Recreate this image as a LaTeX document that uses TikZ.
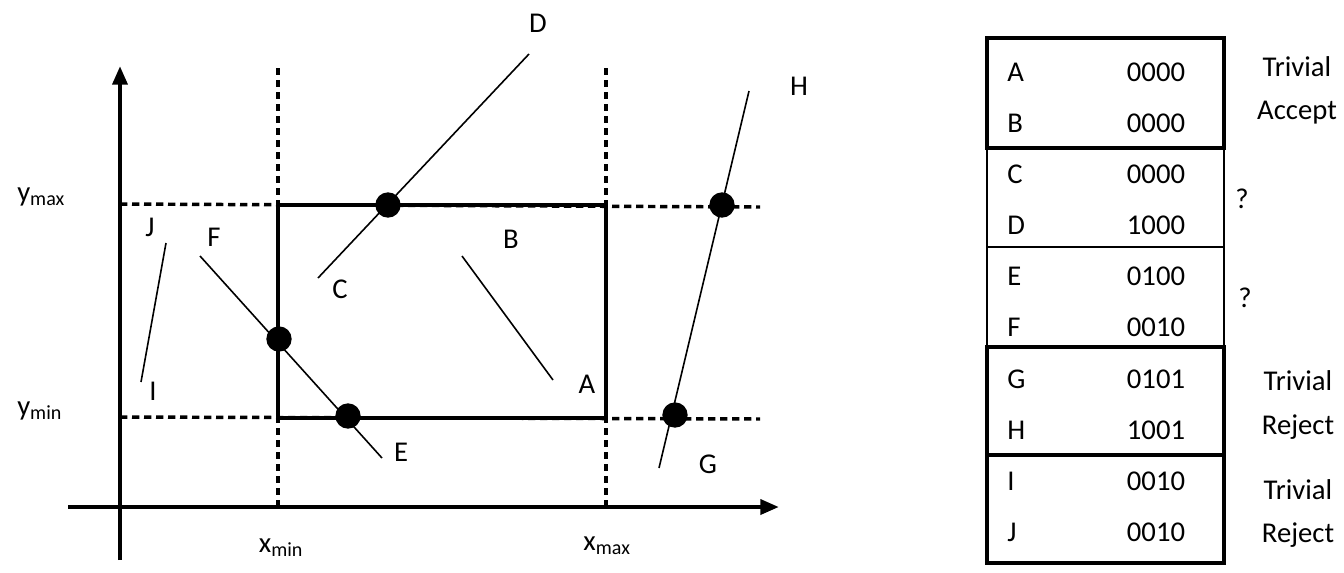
\documentclass[tikz,border=0pt]{standalone}
\usepackage{fontspec}
\setmainfont{Carlito}
\usetikzlibrary{arrows.meta}
\begin{document}
\begin{tikzpicture}[x=0.75pt,y=-0.75pt,
  lbl/.style={font=\fontsize{21.5}{24}\selectfont,inner sep=0pt},
  axis/.style={line width=3.3pt,-{Triangle[length=14pt,width=11pt]}},
  guide/.style={line width=2.6pt,dash pattern=on 5.5pt off 3.5pt},
  clipbox/.style={line width=3.3pt},
  seg/.style={line width=1.2pt},
  hit/.style={circle,fill=black,minimum size=19pt,inner sep=0pt},
  thickrow/.style={line width=2.6pt},
  thinrow/.style={line width=1.1pt}]
\useasboundingbox (0,0) rectangle (1344,572);
% axes
\coordinate (yb) at (120,560); \coordinate (yt) at (120,66);
\coordinate (xl) at (68,507); \coordinate (xr) at (779,507);
\draw[axis] (yb) -- (yt);
\draw[axis] (xl) -- (xr);
% guides
\coordinate (g1a) at (278,68); \coordinate (g1b) at (278,505);
\coordinate (g2a) at (606,68); \coordinate (g2b) at (606,505);
\coordinate (g3a) at (120,204); \coordinate (g3b) at (760,207);
\coordinate (g4a) at (120,417); \coordinate (g4b) at (760,419);
\draw[guide] (g1a) -- (g1b);
\draw[guide] (g2a) -- (g2b);
\draw[guide] (g3a) -- (g3b);
\draw[guide] (g4a) -- (g4b);
% clip rectangle
\coordinate (r1) at (278,205); \coordinate (r2) at (606,418);
\draw[clipbox] (r1) rectangle (r2);
% segments
\coordinate (pC) at (318,278); \coordinate (pD) at (529,54);
\coordinate (pB) at (462,256); \coordinate (pA) at (553,380);
\coordinate (pF) at (200,256); \coordinate (pE) at (382,458);
\coordinate (pJ) at (166,243); \coordinate (pI) at (141,382);
\coordinate (pG) at (659,468); \coordinate (pH) at (749,91);
\draw[seg] (pC) -- (pD);
\draw[seg] (pB) -- (pA);
\draw[seg] (pF) -- (pE);
\draw[seg] (pJ) -- (pI);
\draw[seg] (pG) -- (pH);
% intersection dots
\node[hit] (d1) at (388,205) {};
\node[hit] (d2) at (279,339) {};
\node[hit] (d3) at (348,416) {};
\node[hit] (d4) at (722,205) {};
\node[hit] (d5) at (675,415) {};
% labels
\node[lbl] (lD) at (538,23) {D};
\node[lbl] (lC) at (340,289) {C};
\node[lbl] (lB) at (511,239) {B};
\node[lbl] (lA) at (587,384) {A};
\node[lbl] (lF) at (214,237) {F};
\node[lbl] (lJ) at (150,227) {J};
\node[lbl] (lI) at (153,391) {I};
\node[lbl] (lE) at (401,452) {E};
\node[lbl] (lG) at (708,464) {G};
\node[lbl] (lH) at (799,86) {H};
\node[lbl,anchor=west] (ymax) at (17,197) {y\textsubscript{max}};
\node[lbl,anchor=west] (ymin) at (17,411) {y\textsubscript{min}};
\node[lbl] (xmin) at (281,548) {x\textsubscript{min}};
\node[lbl] (xmax) at (607,546) {x\textsubscript{max}};
% table
\coordinate (t0) at (987,38); \coordinate (t1) at (1224,148);
\coordinate (t2) at (987,148); \coordinate (t3) at (1224,247);
\coordinate (t4) at (987,247); \coordinate (t5) at (1224,347);
\coordinate (t6) at (987,347); \coordinate (t7) at (1224,455);
\coordinate (t8) at (987,455); \coordinate (t9) at (1224,563);
\draw[thinrow] (t2) rectangle (t3);
\draw[thinrow] (t4) rectangle (t5);
\draw[thickrow] (t0) rectangle (t1);
\draw[thickrow] (t6) rectangle (t7);
\draw[thickrow] (t8) rectangle (t9);
\foreach \n/\c/\y in {A/0000/72,B/0000/123,C/0000/174,D/1000/225,E/0100/276,F/0010/327,G/0101/379,H/1001/430,I/0010/481,J/0010/532}{
  \node[lbl,anchor=west] (r\n) at (1007,\y) {\n};
  \node[lbl] (c\n) at (1156,\y) {\c};
}
\node[lbl] (s1a) at (1297,67) {Trivial};
\node[lbl] (s1b) at (1297,113) {Accept};
\node[lbl] (s2) at (1242,199) {?};
\node[lbl] (s3) at (1245,298) {?};
\node[lbl] (s4a) at (1298,381) {Trivial};
\node[lbl] (s4b) at (1298,427) {Reject};
\node[lbl] (s5a) at (1298,490) {Trivial};
\node[lbl] (s5b) at (1298,535) {Reject};
\end{tikzpicture}
\end{document}
